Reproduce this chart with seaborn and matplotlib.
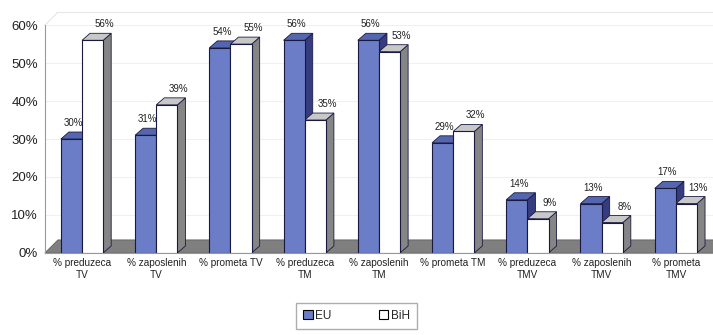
import numpy as np
import pandas as pd
import matplotlib.pyplot as plt
from matplotlib.patches import Polygon, Patch
import seaborn as sns

# 数据
categories = ['% preduzeca\nTV', '% zaposlenih\nTV', '% prometa TV',
              '% preduzeca\nTM', '% zaposlenih\nTM', '% prometa TM',
              '% preduzeca\nTMV', '% zaposlenih\nTMV', '% prometa\nTMV']
eu = [30, 31, 54, 56, 56, 29, 14, 13, 17]
bih = [56, 39, 55, 35, 53, 32, 9, 8, 13]
series = ['EU', 'BiH']

df = pd.DataFrame({
    'kat': categories * 2,
    'val': np.array(eu + bih) / 100,
    'serija': ['EU'] * len(eu) + ['BiH'] * len(bih),
})

sns.set_style('white')
plt.rcParams['font.family'] = ['Liberation Sans', 'DejaVu Sans']

fig = plt.figure(figsize=(7.13, 3.35), dpi=100)
ax = fig.add_axes([0.063, 0.245, 0.937, 0.68])

front = {'EU': '#6b7dc6', 'BiH': '#ffffff'}
side = {'EU': '#353c80', 'BiH': '#858585'}
top = {'EU': '#5566b0', 'BiH': '#c8c8c8'}

sns.barplot(data=df, x='kat', y='val', hue='serija', hue_order=series,
            palette=front, saturation=1, width=0.57, gap=0,
            edgecolor='#1a1a40', linewidth=0.8, legend=False, ax=ax, zorder=3)
ax.set_ylim(0, 0.6)
ax.set_xlim(-0.5, len(categories) - 0.5)
fig.canvas.draw()

dx, dy = 8, 7          # dubina stubova u pikselima
fdx, fdy = 13, 13      # dubina poda
inv = ax.transData.inverted()


def shift(pts, ox, oy):
    d = ax.transData.transform(pts)
    return inv.transform(d + np.array([ox, oy]))


# pod (siva ploca)
x0, x1 = ax.get_xlim()
fl = np.array([[x0, 0], [x1, 0]])
floor_pts = np.vstack([fl, shift(fl[::-1], fdx, fdy)])
ax.add_patch(Polygon(floor_pts, closed=True, facecolor='#7f7f7f',
                     edgecolor='#606060', lw=0.6, zorder=1, clip_on=False))

# gornja ivica zadnjeg zida
wall = shift(np.array([[x0, 0.6], [x1, 0.6]]), fdx, fdy)
ax.plot(wall[:, 0], wall[:, 1], color='#e6e6e6', lw=0.8, clip_on=False, zorder=0)
ax.plot([x0, wall[0, 0]], [0.6, wall[0, 1]], color='#e6e6e6', lw=0.8, clip_on=False, zorder=0)

# 3D stranice i vrhovi stubova
n = len(categories)
for i, p in enumerate(ax.patches[:2 * n]):
    s = series[i // n]
    bx, bw, bh = p.get_x(), p.get_width(), p.get_height()
    right = np.array([[bx + bw, 0], [bx + bw, bh]])
    side_pts = np.vstack([right, shift(right[::-1], dx, dy)])
    tp = np.array([[bx, bh], [bx + bw, bh]])
    top_pts = np.vstack([tp, shift(tp[::-1], dx, dy)])
    z = 2 if s == 'EU' else 2.5
    ax.add_patch(Polygon(side_pts, closed=True, facecolor=side[s],
                         edgecolor='#1a1a40', lw=0.6, zorder=z))
    ax.add_patch(Polygon(top_pts, closed=True, facecolor=top[s],
                         edgecolor='#1a1a40', lw=0.6, zorder=z))
    ox = 2 if s == 'EU' else 12
    ax.annotate(f'{round(bh * 100)}%', (bx + bw / 2, bh),
                xytext=(ox, dy + 4), textcoords='offset pixels',
                ha='center', va='bottom', fontsize=7, color='#222222', zorder=5)

ax.grid(axis='y', color='#f0f0f0', lw=0.8, zorder=0)
ax.set_axisbelow(True)
ax.set_yticks(np.arange(0, 0.61, 0.1))
ax.set_yticklabels([f'{v}%' for v in range(0, 61, 10)], fontsize=9.5, color='#222222')
ax.set_xticks(range(n))
ax.set_xticklabels(categories, fontsize=7.2, color='#222222')
ax.set_xticks(np.arange(-0.5, n, 1), minor=True)
ax.tick_params(axis='x', which='major', length=0, pad=4)
ax.tick_params(axis='x', which='minor', length=4, color='#999999')
ax.tick_params(axis='y', length=3, color='#999999', pad=2)
ax.set_xlabel('')
ax.set_ylabel('')
for sp in ['top', 'right']:
    ax.spines[sp].set_visible(False)
ax.spines['left'].set_color('#999999')
ax.spines['bottom'].set_color('#999999')
ax.spines['left'].set_linewidth(0.8)
ax.spines['bottom'].set_linewidth(0.8)

handles = [Patch(facecolor=front[s], edgecolor='black', lw=0.8) for s in series]
fig.legend(handles, series, loc='lower center', bbox_to_anchor=(0.5, 0.0),
           ncol=2, frameon=True, fancybox=False, edgecolor='#999999',
           fontsize=8.5, handlelength=0.8, handleheight=0.8, handletextpad=0.2,
           columnspacing=4, borderpad=0.6)

fig.savefig('out.png', dpi=100)
